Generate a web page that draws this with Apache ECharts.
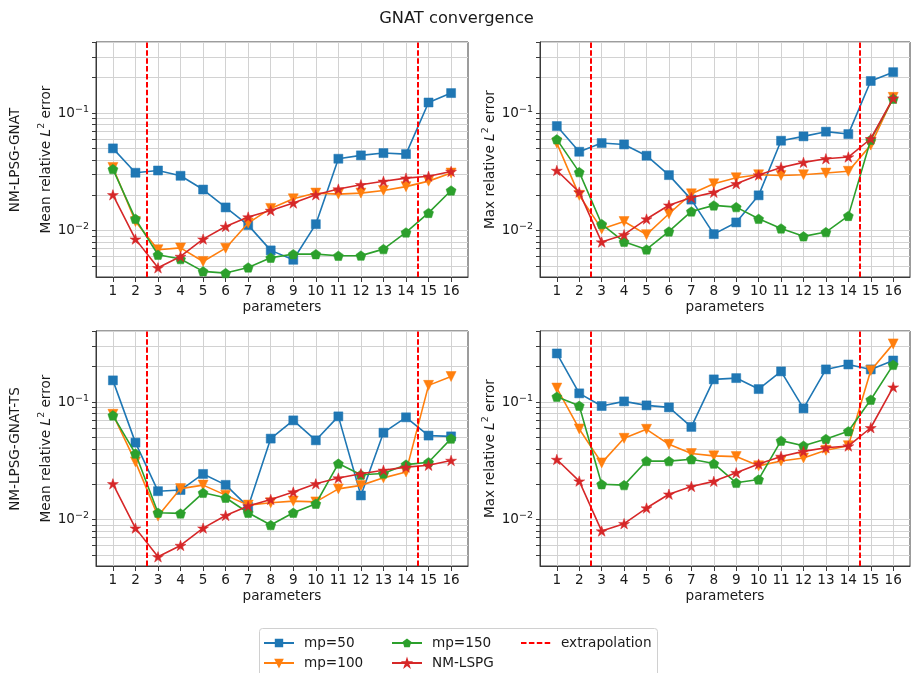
<!DOCTYPE html>
<html>
<head>
<meta charset="utf-8">
<script src="https://cdn.jsdelivr.net/npm/echarts@6/dist/echarts.min.js"></script>
<style>html,body{margin:0;padding:0;background:#fff}#c{width:913px;height:673px}</style>
</head>
<body>
<div id="c"></div>
<script>
// ---------- data ----------
const params = [1,2,3,4,5,6,7,8,9,10,11,12,13,14,15,16];
const extrapolationBounds = [2.5, 14.5];
const yMajorTicks = [0.01, 0.1];
const yAllTicks = [0.005,0.006,0.007,0.008,0.009,0.01,0.02,0.03,0.04,0.05,0.06,0.07,0.08,0.09,0.1,0.2,0.3,0.4];
const seriesNames = ['mp=50','mp=100','mp=150','NM-LSPG'];
const rowLabels = ['NM-LPSG-GNAT','NM-LPSG-GNAT-TS'];

const gnatMean_mp50  = [0.050,0.031,0.0324,0.0292,0.0223,0.0157,0.0111,0.00676,0.00562,0.0113,0.0408,0.0436,0.0456,0.0447,0.123,0.148];
const gnatMean_mp100 = [0.0344,0.0119,0.00684,0.0071,0.00544,0.00706,0.01155,0.0154,0.0186,0.0208,0.0204,0.0208,0.0219,0.0236,0.0263,0.0308];
const gnatMean_mp150 = [0.0333,0.01256,0.0062,0.0057,0.00448,0.00433,0.00484,0.00585,0.00628,0.00628,0.00608,0.0061,0.00693,0.00962,0.0141,0.0219];
const lspgMean       = [0.0201,0.00843,0.0048,0.006,0.00843,0.0108,0.0130,0.0148,0.0171,0.0201,0.0225,0.0245,0.0262,0.0279,0.0289,0.0318];

const gnatMax_mp50  = [0.0775,0.0468,0.0555,0.054,0.0433,0.0296,0.0183,0.0093,0.0117,0.0199,0.0581,0.0633,0.0694,0.0662,0.1875,0.223];
const gnatMax_mp100 = [0.0555,0.0199,0.0103,0.0119,0.0092,0.01387,0.0205,0.025,0.0281,0.0298,0.0294,0.0298,0.0308,0.0319,0.0533,0.136];
const gnatMax_mp150 = [0.0597,0.0314,0.01133,0.008,0.00689,0.0098,0.01452,0.01634,0.0158,0.01256,0.0104,0.0089,0.00968,0.0133,0.0593,0.1325];
const lspgMax       = [0.0324,0.0212,0.00796,0.0092,0.0125,0.0164,0.0191,0.0211,0.025,0.0296,0.0344,0.038,0.0408,0.0422,0.0604,0.134];

const tsMean_mp50  = [0.153,0.0451,0.0174,0.0178,0.0244,0.0197,0.0128,0.0488,0.0698,0.0472,0.0755,0.016,0.0548,0.0741,0.0518,0.051];
const tsMean_mp100 = [0.0786,0.0309,0.01067,0.0183,0.0196,0.0161,0.01324,0.01386,0.01432,0.0141,0.0182,0.0195,0.0226,0.0254,0.1387,0.165];
const tsMean_mp150 = [0.077,0.0364,0.0114,0.01125,0.01686,0.0153,0.0114,0.00895,0.0114,0.0136,0.0299,0.024,0.0246,0.0293,0.0307,0.0488];

const tsMax_mp50  = [0.2594,0.1186,0.0925,0.1013,0.0937,0.0901,0.0614,0.156,0.160,0.129,0.1824,0.0883,0.1897,0.209,0.1897,0.226];
const tsMax_mp100 = [0.1315,0.059,0.0303,0.0491,0.0586,0.0436,0.0364,0.0348,0.0343,0.0286,0.0315,0.0334,0.0388,0.0425,0.186,0.313];
const tsMax_mp150 = [0.111,0.093,0.01995,0.0196,0.0315,0.0314,0.0326,0.0299,0.0205,0.0219,0.0469,0.0425,0.0485,0.0564,0.1047,0.2075];

// ---------- styling ----------
const colors = ['#1f77b4','#ff7f0e','#2ca02c','#d62728'];
const symbols = [
  'rect',
  'path://M-1,-1 L1,-1 L0,1 Z',
  'path://M0,-1 L0.951,-0.309 L0.588,0.809 L-0.588,0.809 L-0.951,-0.309 Z',
  'path://M0,-1 L0.2245,-0.309 L0.951,-0.309 L0.363,0.118 L0.588,0.809 L0,0.382 L-0.588,0.809 L-0.363,0.118 L-0.951,-0.309 L-0.2245,-0.309 Z'
];
const symbolSizes = [9, 10, 10, 11];
const TXT = '#1a1a1a';
const FS = 13.6;

const panels = [
  {grid:{left:96, top:42, width:372, height:235}, ylab:'Mean', data:[gnatMean_mp50,gnatMean_mp100,gnatMean_mp150,lspgMean]},
  {grid:{left:540, top:42, width:370, height:235}, ylab:'Max', data:[gnatMax_mp50,gnatMax_mp100,gnatMax_mp150,lspgMax]},
  {grid:{left:96, top:331, width:372, height:235}, ylab:'Mean', data:[tsMean_mp50,tsMean_mp100,tsMean_mp150,lspgMean]},
  {grid:{left:540, top:331, width:370, height:235}, ylab:'Max', data:[tsMax_mp50,tsMax_mp100,tsMax_mp150,lspgMax]}
];

function yFmt(v){
  const r = Math.round(Math.log10(v));
  return '{b|10}{s|' + String(r).replace('-', '−') + '}';
}

const grids = [], xAxes = [], yAxes = [], series = [];
panels.forEach((p, i) => {
  grids.push(Object.assign({show:true, borderColor:'#3a3a3a', borderWidth:1, containLabel:false, outerBoundsMode:'none'}, p.grid));
  xAxes.push({
    type:'value', gridIndex:i, min:0.25, max:16.75,
    axisLine:{show:true, lineStyle:{color:'#3a3a3a', width:1}},
    axisTick:{show:true, customValues:params, length:5, lineStyle:{color:'#3a3a3a'}},
    axisLabel:{customValues:params, fontSize:FS, color:TXT, margin:7, fontFamily:'DejaVu Sans'},
    splitLine:{show:true, lineStyle:{color:'#d2d2d2', width:1}},
    name:'parameters', nameLocation:'middle', nameGap:23,
    nameTextStyle:{fontSize:FS, color:TXT, fontFamily:'DejaVu Sans'}
  });
  yAxes.push({
    type:'log', logBase:10, gridIndex:i, min:0.00401, max:0.403,
    axisLine:{show:true, lineStyle:{color:'#3a3a3a', width:1}},
    axisTick:{show:true, customValues:yAllTicks, length:4, lineStyle:{color:'#3a3a3a'}},
    axisLabel:{customValues:yMajorTicks, formatter:yFmt, margin:7, color:TXT, fontFamily:'DejaVu Sans',
      rich:{b:{fontSize:FS, color:TXT, lineHeight:18, fontFamily:'DejaVu Sans'}, s:{fontSize:9.5, color:TXT, lineHeight:11, verticalAlign:'top', fontFamily:'DejaVu Sans'}}},
    splitLine:{show:true, lineStyle:{color:'#d2d2d2', width:1}},
    name: p.ylab + ' relative {i|L}{s|2} error', nameLocation:'middle', nameGap:41,
    nameTextStyle:{fontSize:FS, color:TXT, fontFamily:'DejaVu Sans',
      rich:{i:{fontSize:FS, fontStyle:'italic', color:TXT, fontFamily:'DejaVu Sans', lineHeight:18}, s:{fontSize:9.5, color:TXT, lineHeight:11, verticalAlign:'top', fontFamily:'DejaVu Sans'}}}
  });
  p.data.forEach((arr, k) => {
    series.push({
      type:'line', name:seriesNames[k], xAxisIndex:i, yAxisIndex:i,
      data: params.map((x, j) => [x, arr[j]]),
      symbol:symbols[k], symbolSize:symbolSizes[k], symbolKeepAspect:true,
      showAllSymbol:true,
      lineStyle:{color:colors[k], width:1.6},
      itemStyle:{color:colors[k], borderColor:colors[k], borderWidth:0.5},
      z:3 + k, animation:false
    });
  });
  series.push({
    type:'line', name:'extrapolation', xAxisIndex:i, yAxisIndex:i, data:[], symbol:'none', symbolSize:0,
    lineStyle:{color:'#ff0000', width:2, type:[5.5,2.4]},
    itemStyle:{color:'#ff0000', opacity:0},
    z:8,
    markLine:{z:8, silent:true, symbol:['none','none'], label:{show:false}, animation:false,
      lineStyle:{color:'#ff0000', width:2, type:[5.5,2.4], opacity:1},
      data: extrapolationBounds.map(v => ({xAxis:v}))}
  });
});

const legendCommon = {orient:'vertical', itemWidth:30, itemHeight:8, itemGap:6, padding:0,
  textStyle:{fontSize:FS, color:TXT, fontFamily:'DejaVu Sans', padding:[0,0,0,5]}, selectedMode:false, top:636};

const option = {
  animation:false,
  backgroundColor:'#fff',
  title:{text:'GNAT convergence', left:'center', top:6,
    textStyle:{fontSize:16.3, fontWeight:'normal', color:TXT, fontFamily:'DejaVu Sans'}},
  grid:grids, xAxis:xAxes, yAxis:yAxes, series:series,
  legend:[
    Object.assign({}, legendCommon, {left:263, data:[seriesNames[0], seriesNames[1]]}),
    Object.assign({}, legendCommon, {left:391, data:[seriesNames[2], seriesNames[3]]}),
    Object.assign({}, legendCommon, {left:520, data:[{name:'extrapolation', itemStyle:{opacity:0}}]})
  ],
  graphic:[
    {type:'rect', left:259, top:628, shape:{width:398, height:60, r:3}, style:{fill:'#fff', stroke:'#d0d0d0', lineWidth:1}, z:-1, silent:true},
    {type:'text', x:15, y:160, rotation:Math.PI/2, style:{text:rowLabels[0], fontSize:FS, fill:TXT, fontFamily:'DejaVu Sans', align:'center', verticalAlign:'middle'}},
    {type:'text', x:15, y:449, rotation:Math.PI/2, style:{text:rowLabels[1], fontSize:FS, fill:TXT, fontFamily:'DejaVu Sans', align:'center', verticalAlign:'middle'}}
  ]
};

const chart = echarts.init(document.getElementById('c'), null, {renderer:'canvas'});
chart.setOption(option);
</script>
</body>
</html>
